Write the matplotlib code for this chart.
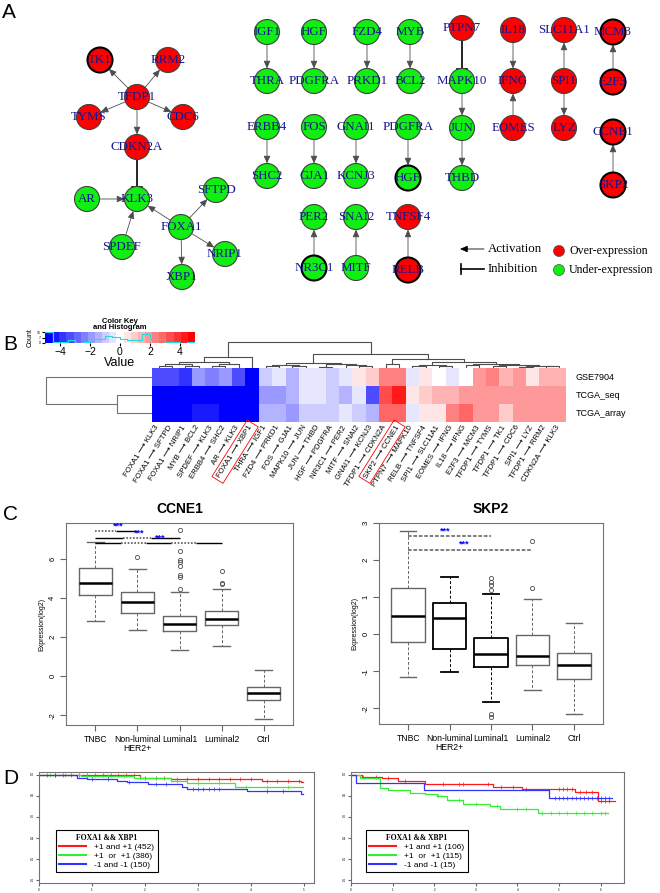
import numpy as np
import matplotlib
matplotlib.use('Agg')
import matplotlib.pyplot as plt
import matplotlib.patches as mpatches
from matplotlib.colors import LinearSegmentedColormap

plt.rcParams['font.family'] = ['Liberation Sans', 'DejaVu Sans']

# ---------------- data ----------------
# panel A: network nodes and edges
red_genes = ['TK1', 'RRM2', 'TFDP1', 'TYMS', 'CDC6', 'CDKN2A', 'TNFSF4', 'RELB', 'PTPN7',
             'IL18', 'IFNG', 'EOMES', 'SLC11A1', 'SPI1', 'LYZ', 'MCM3', 'E2F3', 'CCNE1', 'SKP2']
thick_border = ['TK1', 'MCM3', 'E2F3', 'CCNE1', 'SKP2', 'HGF_2', 'RELB', 'NR3C1']
activations = [('TFDP1', 'TK1'), ('TFDP1', 'RRM2'), ('TFDP1', 'TYMS'), ('TFDP1', 'CDC6'),
               ('TFDP1', 'CDKN2A'), ('AR', 'KLK3'), ('SPDEF', 'KLK3'), ('FOXA1', 'KLK3'),
               ('FOXA1', 'SFTPD'), ('FOXA1', 'NRIP1'), ('FOXA1', 'XBP1'),
               ('IGF1', 'THRA'), ('HGF', 'PDGFRA'), ('FZD4', 'PRKD1'), ('MYB', 'BCL2'),
               ('MAPK10', 'JUN'), ('JUN', 'THBD'), ('IL18', 'IFNG'), ('EOMES', 'IFNG'),
               ('SPI1', 'SLC11A1'), ('SPI1', 'LYZ'), ('E2F3', 'MCM3'), ('SKP2', 'CCNE1'),
               ('ERBB4', 'SHC2'), ('FOS', 'GJA1'), ('GNAI1', 'KCNJ3'), ('PDGFRA_2', 'HGF_2'),
               ('NR3C1', 'PER2'), ('MITF', 'SNAI2'), ('RELB', 'TNFSF4')]
inhibitions = [('CDKN2A', 'KLK3'), ('PTPN7', 'MAPK10')]

# panel B: heatmap
heat_cols = ['FOXA1 ⟶ KLK3', 'FOXA1 ⟶ SFTPD', 'FOXA1 ⟶ NRIP1', 'MYB ⟶ BCL2', 'SPDEF ⟶ KLK3',
             'ERBB4 ⟶ SHC2', 'AR ⟶ KLK3', 'FOXA1 ⟶ XBP1', 'THRA ⟶ IGF1', 'FZD4 ⟶ PRKD1',
             'FOS ⟶ GJA1', 'MAPK10 ⟶ JUN', 'JUN ⟶ THBD', 'HGF ⟶ PDGFRA', 'NR3C1 ⟶ PER2',
             'MITF ⟶ SNAI2', 'GNAI1 ⟶ KCNJ3', 'TFDP1 ⟶ CDKN2A', 'SKP2 ⟶ CCNE1', 'PTPN7 ⟶ MAPK10',
             'RELB ⟶ TNFSF4', 'SPI1 ⟶ SLC11A1', 'EOMES ⟶ IFNG', 'IL18 ⟶ IFNG', 'E2F3 ⟶ MCM3',
             'TFDP1 ⟶ TYMS', 'TFDP1 ⟶ TK1', 'TFDP1 ⟶ CDC6', 'SPI1 ⟶ LYZ', 'TFDP1 ⟶ RRM2',
             'CDKN2A ⟶ KLK3']
heat_rows = ['GSE7904', 'TCGA_seq', 'TCGA_array']
gse7904 = [-3.5, -3.5, -4.0, -2.0, -2.5, -1.8, -3.5, -5.0, -0.8, -0.4, -1.3, -0.6, -0.4, -1.0, -0.3, 0.4,
           0.8, 2.5, 2.5, -0.5, 0.4, 0.0, -0.3, 0.0, 1.8, 2.6, 1.6, 1.9, 0.5, 1.2, 1.2]
tcga_seq = [-5.0, -5.0, -5.0, -5.0, -5.0, -5.0, -5.0, -5.0, -1.8, -1.8, -1.5, -0.6, -0.6, -0.8, -1.2, -0.3,
            -3.5, 3.5, 4.5, 0.3, 0.8, 1.5, 1.3, 1.7, 1.7, 1.7, 1.7, 1.7, 1.7, 1.8, 2.0]
tcga_array = [-5.0, -5.0, -5.0, -4.3, -4.3, -5.0, -5.0, -5.0, -1.5, -1.5, -1.8, -0.9, -0.9, -0.9, -0.5, -1.0,
              -1.3, 3.0, 3.0, -0.3, 0.4, 0.7, 2.5, 2.8, 2.0, 1.8, 1.0, 2.0, 2.0, 2.0, 2.0]
highlight_cols = [7, 18]
# dendrogram merges: [left, right, height]
col_tree = [[[[[0, 1, 0.6], [2, 3, 0.9], 1.6], [[4, 5, 0.8], 6, 1.5], 2.3], 7, 4.2],
            [[[[8, 9, 0.6], [10, 11, 0.8], 1.2], [[12, 13, 0.5], [14, [15, 16, 0.9], 1.1], 1.4], 2.0],
             [[17, 18, 1.6], [[[19, 20, 0.8], [21, 22, 0.7], 1.3],
                              [[23, 24, 1.0], [[25, 26, 0.6], [[27, 28, 0.5], [29, 30, 0.6], 0.9], 1.2], 1.7], 2.3], 3.5],
             5.4], 10.0]
row_tree = [0, [1, 2, 1.0], 3.0]

# panel C: boxplot summaries
groups = ['TNBC', 'Non-luminal\nHER2+', 'Luminal1', 'Luminal2', 'Ctrl']
ccne1_q1 = [4.15, 3.26, 2.31, 2.60, -1.20]
ccne1_med = [4.80, 3.81, 2.65, 2.92, -0.84]
ccne1_q3 = [5.52, 4.29, 3.09, 3.35, -0.53]
ccne1_lo = [2.84, 2.39, 1.33, 1.54, -2.17]
ccne1_hi = [6.89, 5.47, 4.29, 4.45, 0.31]
ccne1_out = [[], [6.09], [7.49, 6.43, 5.95, 5.85, 5.64, 5.18, 5.06, 4.45], [5.40, 4.80, 4.70], []]
ccne1_sig = [(1, 2), (1, 3), (1, 4)]
skp2_q1 = [-0.22, -0.40, -0.89, -0.84, -1.20]
skp2_med = [0.49, 0.45, -0.53, -0.59, -0.83]
skp2_q3 = [1.24, 0.85, -0.09, -0.01, -0.50]
skp2_lo = [-1.16, -1.01, -1.82, -1.51, -2.14]
skp2_hi = [2.79, 1.54, 1.08, 0.95, 0.31]
skp2_out = [[], [], [1.51, 1.42, 1.33, 1.18, -2.14, -2.22], [1.26, 2.52], []]
skp2_sig = [(1, 3), (1, 4)]

# panel D: survival curves (event times, survival after event, end time, censor times)
km_left_labels = ['+1 and +1 (452)', '+1  or  +1 (386)', '-1 and -1 (150)']
km_left_red_t = [0, 1.9, 2.5, 4.2, 4.95]
km_left_red_s = [1.0, 0.975, 0.96, 0.94, 0.93]
km_left_red_c = [0.15, 0.3, 0.45, 0.6, 0.75, 0.9, 1.05, 1.2, 1.35, 1.5, 1.65, 1.8, 2.0, 2.2, 2.35,
                 2.6, 2.8, 3.0, 3.2, 3.4, 3.6, 3.8, 4.0, 4.3, 4.5, 4.7, 4.9]
km_left_green_t = [0, 0.8, 1.8, 2.5, 2.8, 3.7]
km_left_green_s = [1.0, 0.99, 0.975, 0.945, 0.92, 0.89]
km_left_green_c = [0.2, 0.5, 0.9, 1.3, 1.6, 1.9, 2.2, 2.6, 3.0, 3.4, 3.9, 4.3, 4.7]
km_left_blue_t = [0, 0.72, 0.9, 1.47, 1.66, 2.06, 2.7, 2.8, 3.92, 4.95]
km_left_blue_s = [1.0, 0.975, 0.965, 0.947, 0.93, 0.917, 0.89, 0.87, 0.847, 0.817]
km_left_blue_c = [0.3, 1.0, 1.3, 1.7, 2.2, 2.4, 2.9, 3.0, 3.1, 3.2, 3.3, 3.4, 4.3, 4.6]
km_left_end = [4.98, 4.98, 4.98]

km_right_labels = ['+1 and +1 (106)', '+1  or  +1 (115)', '-1 and -1 (15)']
km_right_red_t = [0, 0.26, 0.74, 1.13, 1.78, 3.41, 4.11, 5.38, 5.94]
km_right_red_s = [1.0, 0.985, 0.97, 0.94, 0.917, 0.887, 0.868, 0.838, 0.755]
km_right_red_c = [0.3, 0.6, 0.9, 1.3, 2.2, 2.6, 2.7, 3.3, 3.6, 3.9, 4.2, 5.0, 5.1, 5.2, 5.3, 5.5,
                  5.65, 5.8, 6.0, 6.1, 6.2]
km_right_green_t = [0, 0.22, 0.7, 0.89, 1.42, 1.78, 2.07, 2.31, 2.69, 3.34, 3.58, 4.5]
km_right_green_s = [1.0, 0.97, 0.878, 0.856, 0.832, 0.817, 0.80, 0.765, 0.725, 0.704, 0.672, 0.64]
km_right_green_c = [2.1, 2.6, 3.0, 3.5, 4.0, 4.2, 4.6, 4.8, 5.0, 5.2, 5.4, 5.6, 5.8, 6.0, 6.1]
km_right_blue_t = [0, 0.12, 1.75, 4.76]
km_right_blue_s = [1.0, 0.924, 0.853, 0.78]
km_right_blue_c = [4.9, 5.0, 5.1, 5.2, 5.3, 5.4, 5.5, 5.6, 5.7, 5.8, 5.9, 6.0, 6.1, 6.2]
km_right_end = [6.35, 6.18, 6.27]

# ---------------- layout ----------------
W, H = 660, 893
fig = plt.figure(figsize=(W / 100, H / 100), dpi=100)


def px_axes(x0, y0, x1, y1):
    return fig.add_axes([x0 / W, 1 - y1 / H, (x1 - x0) / W, (y1 - y0) / H])


ov = fig.add_axes([0, 0, 1, 1])
ov.set_xlim(0, W)
ov.set_ylim(H, 0)
ov.axis('off')
ov.set_zorder(10)

# node positions in pixels
layout = {
    'TK1': (100, 60), 'RRM2': (168, 60), 'TFDP1': (137, 97), 'TYMS': (89, 117), 'CDC6': (183, 117),
    'CDKN2A': (137, 147), 'KLK3': (137, 199), 'AR': (87, 199), 'SFTPD': (216, 190), 'FOXA1': (181, 227),
    'SPDEF': (122, 247), 'NRIP1': (225, 254), 'XBP1': (182, 277),
    'IGF1': (267, 32), 'THRA': (267, 81), 'ERBB4': (267, 127), 'SHC2': (267, 176),
    'HGF': (314, 32), 'PDGFRA': (314, 81), 'FOS': (314, 127), 'GJA1': (314, 176),
    'PER2': (314, 217), 'NR3C1': (314, 268),
    'FZD4': (367, 32), 'PRKD1': (367, 81), 'GNAI1': (356, 127), 'KCNJ3': (356, 176),
    'SNAI2': (356, 217), 'MITF': (356, 268),
    'MYB': (410, 32), 'BCL2': (410, 81), 'PDGFRA_2': (408, 127), 'HGF_2': (408, 178),
    'TNFSF4': (408, 217), 'RELB': (408, 270),
    'PTPN7': (462, 28), 'MAPK10': (462, 81), 'JUN': (462, 128), 'THBD': (462, 178),
    'IL18': (513, 30), 'IFNG': (513, 81), 'EOMES': (513, 128),
    'SLC11A1': (564, 30), 'SPI1': (564, 81), 'LYZ': (564, 128),
    'MCM3': (613, 32), 'E2F3': (613, 82), 'CCNE1': (613, 132), 'SKP2': (613, 185)}
R_NODE = 12.5
RED = '#ff0000'
GREEN = '#11ee11'
NAVY = '#15158f'


def edge_pts(a, b):
    (x0, y0), (x1, y1) = layout[a], layout[b]
    d = np.hypot(x1 - x0, y1 - y0)
    ux, uy = (x1 - x0) / d, (y1 - y0) / d
    return (x0 + ux * R_NODE, y0 + uy * R_NODE), (x1 - ux * R_NODE, y1 - uy * R_NODE), (ux, uy)


# ---------------- panel A ----------------
for a, b in activations:
    p0, p1, _ = edge_pts(a, b)
    ov.annotate('', xy=p1, xytext=p0, zorder=2,
                arrowprops=dict(arrowstyle='-|>,head_length=0.5,head_width=0.22', color='0.3',
                                lw=0.6, shrinkA=0, shrinkB=0, mutation_scale=9))
for a, b in inhibitions:
    p0, p1, (ux, uy) = edge_pts(a, b)
    ov.plot([p0[0], p1[0]], [p0[1], p1[1]], color='black', lw=1.2, zorder=2)
    ov.plot([p1[0] - uy * 5, p1[0] + uy * 5], [p1[1] + ux * 5, p1[1] - ux * 5], color='black', lw=1.2, zorder=2)

for name, (x, y) in layout.items():
    fc = RED if name in red_genes else GREEN
    thick = name in thick_border
    ov.add_patch(mpatches.Circle((x, y), R_NODE, fc=fc, ec='black' if thick else '0.25',
                                 lw=1.5 if thick else 0.8, zorder=3))
    ov.text(x, y, name.split('_')[0], ha='center', va='center', fontsize=9.3,
            family='Liberation Serif', color=NAVY, zorder=4)

# legend of panel A
ov.annotate('', xy=(460, 249), xytext=(484, 249),
            arrowprops=dict(arrowstyle='-|>,head_length=0.5,head_width=0.22', color='black',
                            lw=0.6, shrinkA=0, shrinkB=0, mutation_scale=9))
ov.plot([461, 484], [269, 269], color='black', lw=1.2)
ov.plot([461, 461], [264, 274], color='black', lw=1.2)
ov.text(488, 249, 'Activation', fontsize=9.3, family='Liberation Serif', va='center')
ov.text(488, 269, 'Inhibition', fontsize=9.3, family='Liberation Serif', va='center')
ov.add_patch(mpatches.Circle((559, 251), 5.5, fc=RED, ec='0.3', lw=0.5))
ov.add_patch(mpatches.Circle((559, 270), 5.5, fc=GREEN, ec='0.3', lw=0.5))
ov.text(569, 251, 'Over-expression', fontsize=8.6, family='Liberation Serif', va='center')
ov.text(569, 270, 'Under-expression', fontsize=8.6, family='Liberation Serif', va='center')

# ---------------- panel B ----------------
cmap = LinearSegmentedColormap.from_list('bluered', ['#0000ff', '#ffffff', '#ff0000'], N=21)
heat = np.array([gse7904, tcga_seq, tcga_array])

key = px_axes(45, 332, 195, 343)
counts, bins = np.histogram(heat, bins=np.linspace(-5, 5, 21))
ktop = counts.max()
key.imshow(np.linspace(-5, 5, 21)[None, :], cmap=cmap, vmin=-5, vmax=5,
           extent=(-5, 5, 0, ktop), aspect='auto')
key.step(bins, np.r_[counts, counts[-1]], where='post', color='#22dddd', lw=0.8)
key.set_xlim(-5, 5)
key.set_ylim(0, ktop)
key.set_xticks([-4, -2, 0, 2, 4])
key.set_yticks([0, ktop // 2, ktop])
key.tick_params(axis='x', labelsize=7.5, length=2, pad=1)
key.tick_params(axis='y', labelsize=2.5, length=2, pad=1)
for s in key.spines.values():
    s.set_visible(False)
key.set_xlabel('Value', fontsize=9, labelpad=0)
key.set_ylabel('Count', fontsize=5, labelpad=2)
key.set_title('Color Key\nand Histogram', fontsize=5.5, fontweight='bold', pad=2, linespacing=0.9)

hm = px_axes(152, 368, 566, 422)
hm.pcolormesh(heat, cmap=cmap, vmin=-5, vmax=5)
hm.set_xlim(0, len(heat_cols))
hm.set_ylim(len(heat_rows), 0)
hm.axis('off')
for i, r in enumerate(heat_rows):
    hm.text(len(heat_cols) + 0.7, i + 0.5, r, fontsize=6.5, va='center', ha='left')

colw = (566 - 152) / len(heat_cols)
ang = 58
u = np.array([np.cos(np.radians(ang)), -np.sin(np.radians(ang))])
nrm = np.array([np.sin(np.radians(ang)), np.cos(np.radians(ang))])
for i, lab in enumerate(heat_cols):
    cx = 152 + (i + 0.5) * colw
    ov.text(cx - 1, 426, lab, rotation=ang, rotation_mode='anchor', ha='right', va='center', fontsize=5.6)
    if i in highlight_cols:
        a = np.array([cx - 1, 426.0])
        ln = 5.3 * len(lab)
        pts = [a + 3 * u + 6.5 * nrm, a + 3 * u - 6.5 * nrm, a - ln * u - 6.5 * nrm, a - ln * u + 6.5 * nrm]
        ov.add_patch(mpatches.Polygon(pts, closed=True, fill=False, ec='red', lw=0.6))


def draw_tree(ax, node, vertical=True):
    if isinstance(node, int):
        return node + 0.5, 0.0
    xl, hl = draw_tree(ax, node[0], vertical)
    xr, hr = draw_tree(ax, node[1], vertical)
    h = node[2]
    xs, ys = [xl, xl, xr, xr], [hl, h, h, hr]
    if vertical:
        ax.plot(xs, ys, color='0.3', lw=0.8)
    else:
        ax.plot(ys, xs, color='0.45', lw=0.8)
    return (xl + xr) / 2, h


dend = px_axes(152, 340, 566, 368)
draw_tree(dend, col_tree)
dend.set_xlim(0, len(heat_cols))
dend.set_ylim(0, 10.77)
dend.axis('off')

rd = px_axes(40, 368, 152, 422)
draw_tree(rd, row_tree, vertical=False)
rd.set_xlim(3.17, 0)
rd.set_ylim(3, 0)
rd.axis('off')


# ---------------- panel C ----------------
def box_panel(box, q1, med, q3, lo, hi, outl, colors, widths, ylim, yticks, title):
    ax = px_axes(*box)
    for i in range(len(groups)):
        st = dict(med=med[i], q1=q1[i], q3=q3[i], whislo=lo[i], whishi=hi[i], fliers=outl[i])
        c = colors[i]
        ax.bxp([st], positions=[i + 1], widths=0.8, capwidths=0.4,
               boxprops=dict(color=c, lw=widths[i]),
               medianprops=dict(color='black', lw=1.8),
               whiskerprops=dict(color=c, lw=0.7, ls=(0, (3, 2))),
               capprops=dict(color=c, lw=widths[i]),
               flierprops=dict(marker='o', mfc='none', mec='0.3', ms=3, mew=0.6))
    ax.set_xlim(0.3, 5.7)
    ax.set_ylim(*ylim)
    ax.set_xticks(range(1, 6))
    ax.set_xticklabels(groups, fontsize=6.2, linespacing=1.0)
    ax.set_yticks(yticks)
    ax.set_yticklabels([str(v) for v in yticks], fontsize=5.5)
    plt.setp(ax.get_yticklabels(), rotation=90, va='center')
    ax.tick_params(length=4, color='0.4', pad=3)
    for s in ax.spines.values():
        s.set_color('0.45')
    ax.set_ylabel('Expression(log2)', fontsize=5, labelpad=3)
    ax.set_title(title, fontsize=10, fontweight='bold', pad=7)
    return ax


axc1 = box_panel((66, 523, 293, 725), ccne1_q1, ccne1_med, ccne1_q3, ccne1_lo, ccne1_hi, ccne1_out,
                 ['0.4'] * 5, [1.0] * 5, (-2.5, 7.85), [-2, 0, 2, 4, 6], 'CCNE1')
# significance bars, alternating solid / dotted pieces
sig_y = [7.44, 7.09, 6.8]
sig_pieces = [['dot', 'solid'], ['solid', 'dot', 'solid'], ['solid', 'dot', 'solid', 'dot', 'solid']]
for (a, b), y, pieces in zip(ccne1_sig, sig_y, sig_pieces):
    xs = np.linspace(a, b, len(pieces) + 1)
    for k, p in enumerate(pieces):
        if p == 'solid':
            axc1.plot(xs[k:k + 2], [y, y], color='black', lw=1.0, solid_capstyle='butt')
        else:
            axc1.plot(xs[k:k + 2], [y, y], color='0.35', lw=1.2, ls=(0, (1, 1)))
    axc1.text(a + (b - a) * 0.5 + 0.05, y + 0.03, '***', color='blue', fontsize=6.5, fontweight='bold',
              ha='center', va='bottom')

axc2 = box_panel((379, 523, 603, 724), skp2_q1, skp2_med, skp2_q3, skp2_lo, skp2_hi, skp2_out,
                 ['0.4', 'black', 'black', '0.4', '0.4'], [1.0, 1.3, 1.3, 1.0, 1.0],
                 (-2.42, 3.0), [-2, -1, 0, 1, 2, 3], 'SKP2')
for (a, b), y in zip(skp2_sig, [2.64, 2.28]):
    axc2.plot([a, b], [y, y], color='0.45', lw=1.3, ls=(0, (2, 1)))
    axc2.text(a + (b - a) * 0.45, y + 0.03, '***', color='blue', fontsize=6.5, fontweight='bold',
              ha='center', va='bottom')


# ---------------- panel D ----------------
def km_panel(box, curves, ends, labels, xmax, nticks, anchor):
    ax = px_axes(*box)
    colors = ['#ff1a1a', '#33ee33', '#3333ff']
    for (t, s, cens), tend, c, lab in zip(curves, ends, colors, labels):
        ax.step(np.r_[t, tend], np.r_[s, s[-1]], where='post', color=c, lw=0.9, label=lab)
        cs = np.array(cens)
        idx = np.searchsorted(t, cs, side='right') - 1
        ax.plot(cs, np.array(s)[idx], '+', color=c, ms=3, mew=0.5)
    ax.set_xlim(0, xmax)
    ax.set_ylim(-0.028, 1.028)
    ax.set_xticks(range(nticks))
    ax.set_yticks([0, 0.2, 0.4, 0.6, 0.8, 1.0])
    ax.tick_params(labelsize=2.2, length=2.5, color='0.4', pad=1)
    for s in ax.spines.values():
        s.set_color('0.45')
    leg = ax.legend(loc='lower left', bbox_to_anchor=anchor, title='FOXA1 && XBP1', fontsize=6,
                    title_fontproperties={'family': 'Liberation Serif', 'weight': 'bold', 'size': 5.5},
                    fancybox=False, edgecolor='black', framealpha=1, handlelength=3.2,
                    borderpad=0.4, labelspacing=0.15, handletextpad=1.0)
    leg.get_frame().set_linewidth(0.8)
    for ln in leg.get_lines():
        ln.set_linewidth(1.5)
    return ax


km_panel((39, 772, 314, 883),
         [(km_left_red_t, km_left_red_s, km_left_red_c),
          (km_left_green_t, km_left_green_s, km_left_green_c),
          (km_left_blue_t, km_left_blue_s, km_left_blue_c)],
         km_left_end, km_left_labels, 5.19, 6, (0.047, 0.06))
km_panel((351, 772, 624, 883),
         [(km_right_red_t, km_right_red_s, km_right_red_c),
          (km_right_green_t, km_right_green_s, km_right_green_c),
          (km_right_blue_t, km_right_blue_s, km_right_blue_c)],
         km_right_end, km_right_labels, 6.56, 7, (0.04, 0.06))

# panel letters
for lab, (x, y) in zip('ABCD', [(2, 13), (3, 345), (3, 515), (3, 778)]):
    ov.text(x, y, lab, fontsize=15, va='center', ha='left')

fig.savefig('out.png', dpi=100)
